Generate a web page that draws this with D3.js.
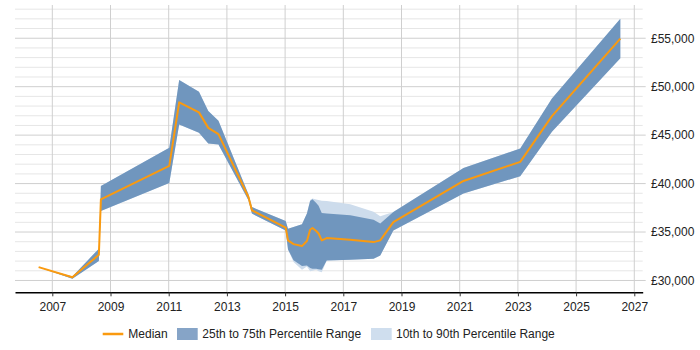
<!DOCTYPE html>
<html>
<head>
<meta charset="utf-8">
<script src="https://cdn.jsdelivr.net/npm/d3@7"></script>
<style>
  html, body { margin: 0; padding: 0; background: #fff; }
  svg { display: block; font-family: "Liberation Sans", Arial, sans-serif; }
</style>
</head>
<body>
<svg id="chart" width="700" height="350"></svg>
<script>
const years  = [2006.53, 2007.69, 2008.60, 2008.67, 2011.02, 2011.36, 2012.04, 2012.36, 2012.71, 2013.74, 2013.86, 2015.02, 2015.10, 2015.29, 2015.58, 2015.75, 2015.86, 2015.94, 2016.07, 2016.15, 2016.26, 2016.43, 2017.24, 2018.04, 2018.27, 2018.72, 2021.13, 2023.08, 2024.17, 2026.52];
const median = [31375, 30340, 32660, 38380, 41820, 48380, 47350, 45750, 45100, 38620, 37240, 35450, 34140, 33750, 33550, 34070, 35240, 35410, 35100, 34850, 34140, 34380, 34210, 33960, 34140, 36030, 40270, 42240, 46960, 54960];
const p25    = [31375, 30180, 32000, 37170, 40060, 46100, 45240, 44140, 44040, 38280, 36900, 35170, 33200, 32100, 31500, 31550, 31300, 31210, 31200, 31150, 31100, 32070, 32150, 32245, 32590, 35170, 38970, 40760, 45340, 52930];
const p75    = [31375, 30420, 33280, 39750, 43690, 50690, 49480, 47480, 46480, 38900, 37580, 36130, 35350, 35520, 35800, 36900, 38200, 38380, 38000, 37700, 36960, 36900, 36720, 36280, 35870, 37070, 41620, 43620, 48790, 57000];
const p10    = [31375, 30180, 32000, 37170, 40060, 46100, 45240, 44140, 44040, 38280, 36900, 35170, 33200, 31900, 31100, 31450, 30950, 31000, 31100, 30950, 30860, 32070, 32150, 32245, 32590, 35170, 38970, 40760, 45340, 52930];
const p90    = [31375, 30420, 33280, 39750, 43690, 50690, 49480, 47480, 46480, 38900, 37580, 36130, 35350, 35520, 35800, 36900, 38300, 38450, 38350, 38300, 38220, 38200, 37860, 37100, 36620, 37070, 41620, 43620, 48790, 57000];

const xTickYears = [2007, 2009, 2011, 2013, 2015, 2017, 2019, 2021, 2023, 2025, 2027];
const yMajorTicks = [30000, 35000, 40000, 45000, 50000, 55000];
const yMinorTicks = d3.range(30000, 58001, 1000);

const legendItems = ["Median", "25th to 75th Percentile Range", "10th to 90th Percentile Range"];

const rows = years.map((yr, i) => ({ year: yr, med: median[i], p10: p10[i], p25: p25[i], p75: p75[i], p90: p90[i] }));

const svg = d3.select("#chart");
const plotLeft = 15, plotRight = 642.7, plotTop = 5, plotBottom = 292.3;

const x = d3.scaleLinear().domain([2005.718, 2027.289]).range([plotLeft, plotRight]);
const y = d3.scaleLinear().domain([28780, 58430]).range([plotBottom, plotTop]);

// minor horizontal grid
svg.append("g").selectAll("line").data(yMinorTicks.filter(v => v % 5000 !== 0)).join("line")
  .attr("x1", plotLeft).attr("x2", plotRight)
  .attr("y1", d => y(d)).attr("y2", d => y(d))
  .attr("stroke", "#e6e6e6").attr("stroke-width", 1);

// major horizontal grid
svg.append("g").selectAll("line").data(yMajorTicks).join("line")
  .attr("x1", plotLeft).attr("x2", plotRight + 3)
  .attr("y1", d => y(d)).attr("y2", d => y(d))
  .attr("stroke", "#cfcfcf").attr("stroke-width", 1);

// vertical grid
svg.append("g").selectAll("line").data(xTickYears).join("line")
  .attr("x1", d => x(d)).attr("x2", d => x(d))
  .attr("y1", plotTop).attr("y2", plotBottom)
  .attr("stroke", "#cfcfcf").attr("stroke-width", 1);

// 10-90 band
svg.append("path").datum(rows)
  .attr("fill", "#cddcec")
  .attr("d", d3.area().x(d => x(d.year)).y0(d => y(d.p10)).y1(d => y(d.p90)));

// 25-75 band
svg.append("path").datum(rows)
  .attr("fill", "#7096be")
  .attr("d", d3.area().x(d => x(d.year)).y0(d => y(d.p25)).y1(d => y(d.p75)));

// median
svg.append("path").datum(rows)
  .attr("fill", "none")
  .attr("stroke", "#fa9a0f")
  .attr("stroke-width", 2)
  .attr("stroke-linejoin", "round")
  .attr("d", d3.line().x(d => x(d.year)).y(d => y(d.med)));

// x axis
const xAxis = d3.axisBottom(x).tickValues(xTickYears).tickFormat(d3.format("d")).tickSize(4).tickSizeOuter(0);
const gx = svg.append("g").attr("transform", `translate(0,${plotBottom})`).call(xAxis);
gx.select(".domain").attr("stroke", "#000").attr("stroke-width", 1.5);
gx.selectAll(".tick line").attr("stroke", "#333");
gx.selectAll("text").attr("font-size", 12).attr("fill", "#222").attr("dy", "0.95em")
  .attr("font-family", "'Liberation Sans', Arial, sans-serif");

// y axis labels (right)
const yAxis = d3.axisRight(y).tickValues(yMajorTicks)
  .tickFormat(d => "£" + d3.format(",")(d)).tickSize(0).tickPadding(0);
const gy = svg.append("g").attr("transform", `translate(651,0)`).call(yAxis);
gy.select(".domain").remove();
gy.selectAll("text").attr("font-size", 12).attr("fill", "#222").attr("x", 0)
  .attr("font-family", "'Liberation Sans', Arial, sans-serif");

// legend
const lg = svg.append("g").attr("font-size", 12).attr("fill", "#222");
const ly = 334;
lg.append("line").attr("x1", 102.7).attr("x2", 123.3).attr("y1", ly).attr("y2", ly)
  .attr("stroke", "#fa9a0f").attr("stroke-width", 2.5);
lg.append("text").attr("x", 128.3).attr("y", ly).attr("dy", "0.35em").text(legendItems[0]);
lg.append("rect").attr("x", 177).attr("y", ly - 6).attr("width", 20.7).attr("height", 12).attr("fill", "#86a4c7");
lg.append("text").attr("x", 202.3).attr("y", ly).attr("dy", "0.35em").text(legendItems[1]);
lg.append("rect").attr("x", 371).attr("y", ly - 6).attr("width", 20.7).attr("height", 12).attr("fill", "#cfdeee");
lg.append("text").attr("x", 396).attr("y", ly).attr("dy", "0.35em").text(legendItems[2]);
</script>
</body>
</html>
